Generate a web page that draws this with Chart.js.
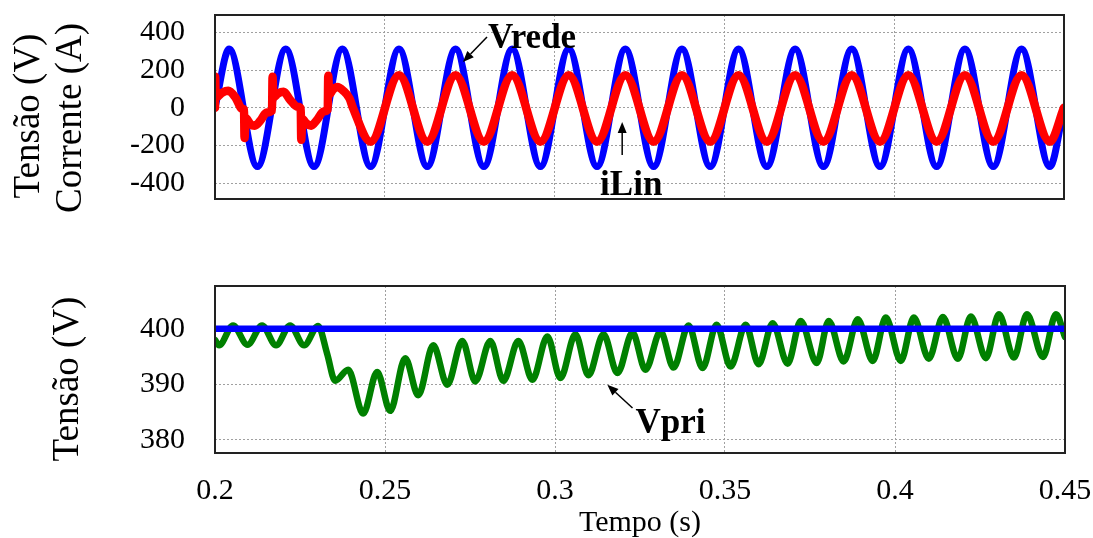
<!DOCTYPE html>
<html lang="pt">
<head>
<meta charset="utf-8">
<title>Tensão e corrente</title>
<script src="https://cdn.jsdelivr.net/npm/chart.js@4.4.1/dist/chart.umd.min.js"></script>
<style>
  html, body { margin: 0; padding: 0; background: #ffffff; }
  #quadro { position: relative; width: 1093px; height: 538px; overflow: hidden; }
  #quadro canvas { position: absolute; left: 0; top: 0; }
</style>
</head>
<body>
<div id="quadro">
  <canvas id="graficoRede" width="1093" height="538"></canvas>
  <canvas id="graficoPri" width="1093" height="538"></canvas>
</div>
<script>
// ---- eixos ----
const tempoTicks = [0.2, 0.25, 0.3, 0.35, 0.4, 0.45];
const tempoRotulos = ['0.2', '0.25', '0.3', '0.35', '0.4', '0.45'];
const redeTicks = [-400, -200, 0, 200, 400];
const priTicks = [380, 385, 390, 395, 400, 405];

// ---- Vrede: tensão da rede (extremos de cada semiciclo) ----
const vredeT = [0.2, 0.20417, 0.21250, 0.22083, 0.22917, 0.23750, 0.24583, 0.25417, 0.26250,
  0.27083, 0.27917, 0.28750, 0.29583, 0.30417, 0.31250, 0.32083, 0.32917, 0.33750, 0.34583,
  0.35417, 0.36250, 0.37083, 0.37917, 0.38750, 0.39583, 0.40417, 0.41250, 0.42083, 0.42917,
  0.43750, 0.44583, 0.45];
const vredeV = [0, 311, -312, 311, -312, 311, -312, 311, -312, 311, -312, 311, -312, 311, -312,
  311, -312, 311, -312, 311, -312, 311, -312, 311, -312, 311, -312, 311, -312, 311, -312, 0];

// ---- iLin: corrente de linha (partida com picos, depois regime) ----
const iLinT = [0.2, 0.20005, 0.2002, 0.2021, 0.2039, 0.2060, 0.2080, 0.20855, 0.2087, 0.2090,
  0.2105, 0.2117, 0.2135, 0.2152, 0.2168, 0.21695, 0.2172, 0.2185, 0.2202, 0.2220, 0.2243,
  0.22525, 0.2254, 0.2257, 0.2270, 0.2283, 0.2300, 0.2320, 0.2332, 0.23335, 0.2336, 0.2347,
  0.2360, 0.2378, 0.2396, 0.2406,
  0.24583, 0.25417, 0.26250, 0.27083, 0.27917, 0.28750, 0.29583, 0.30417, 0.31250, 0.32083,
  0.32917, 0.33750, 0.34583, 0.35417, 0.36250, 0.37083, 0.37917, 0.38750, 0.39583, 0.40417,
  0.41250, 0.42083, 0.42917, 0.43750, 0.44583, 0.45];
const iLinV = [0, 165, 55, 80, 90, 55, -5, -10, -160, -55,
  -88, -95, -65, -25, -15, 165, 55, 75, 85, 45, 5,
  -5, -170, -60, -85, -95, -65, -20, -10, 170, 70, 95,
  110, 90, 50, 0,
  -180, 172, -180, 172, -180, 172, -180, 172, -180, 172,
  -180, 172, -180, 172, -180, 172, -180, 172, -180, 172,
  -180, 172, -180, 172, -180, 0];

// ---- Vpri: tensão no primário (extremos da ondulação) ----
const vpriT = [0.2, 0.20118, 0.20530, 0.20957, 0.21384, 0.21796, 0.22208, 0.22621, 0.23033,
  0.23298, 0.23534, 0.23916, 0.24358, 0.24770, 0.25153, 0.25595, 0.25978, 0.26419, 0.26832,
  0.27273, 0.27656, 0.28098, 0.28481, 0.28922, 0.29335, 0.29776, 0.30159, 0.30601, 0.30983,
  0.31425, 0.31837, 0.32279, 0.32662, 0.33104, 0.33486, 0.33928, 0.34340, 0.34753, 0.35165,
  0.35607, 0.35989, 0.36402, 0.36843, 0.37226, 0.37697, 0.38051, 0.38492, 0.38905, 0.39346,
  0.39729, 0.40171, 0.40554, 0.40995, 0.41408, 0.41849, 0.42232, 0.42674, 0.43057, 0.43498,
  0.43881, 0.44352, 0.44735, 0.45];
const vpriV = [398.0, 397.0, 400.6, 397.1, 400.6, 397.0, 400.6, 397.0, 400.5,
  395.5, 390.6, 392.6, 384.7, 392.2, 385.2, 394.7, 388.0, 397.0, 389.9,
  397.8, 390.5, 397.8, 390.6, 397.8, 390.8, 398.6, 391.1, 399.0, 391.6,
  399.0, 392.0, 399.3, 392.6, 399.5, 393.0, 400.6, 392.9, 400.7, 393.2,
  400.7, 393.6, 401.0, 393.7, 401.4, 393.8, 401.4, 394.1, 401.7, 394.2,
  402.0, 394.2, 402.0, 394.6, 402.1, 394.6, 402.2, 394.7, 402.6, 394.8,
  402.6, 394.9, 402.6, 398.5];

// ---- referência de 400 V ----
const refT = [0.2, 0.45];
const refV = [400, 400];

// ------------------------------------------------------------
const pares = (ts, vs) => ts.map((t, i) => ({ x: t, y: vs[i] }));
const SERIF = "'Liberation Serif', 'Times New Roman', serif";

// moldura preta em volta da área do gráfico
const moldura = {
  id: 'moldura',
  afterDatasetsDraw(chart) {
    const { ctx, chartArea: a } = chart;
    ctx.save();
    ctx.strokeStyle = '#222';
    ctx.lineWidth = 2;
    ctx.strokeRect(a.left, a.top, a.right - a.left, a.bottom - a.top);
    ctx.restore();
  }
};

// títulos verticais e setas com rótulos
const textos = {
  id: 'textos',
  afterDraw(chart, args, opts) {
    const ctx = chart.ctx;
    const sx = chart.scales.x, sy = chart.scales.y;
    ctx.save();
    ctx.fillStyle = '#000';
    ctx.font = '37px ' + SERIF;
    ctx.textAlign = 'center';
    ctx.textBaseline = 'alphabetic';
    (opts.titulos || []).forEach(t => {
      ctx.save();
      ctx.translate(t.base, t.centro);
      ctx.rotate(-Math.PI / 2);
      ctx.fillText(t.texto, 0, 0);
      ctx.restore();
    });
    (opts.setas || []).forEach(s => {
      const x0 = sx.getPixelForValue(s.de[0]), y0 = sy.getPixelForValue(s.de[1]);
      const x1 = sx.getPixelForValue(s.ate[0]), y1 = sy.getPixelForValue(s.ate[1]);
      const ang = Math.atan2(y1 - y0, x1 - x0);
      const comp = 11, meia = 4.5;
      ctx.strokeStyle = '#000';
      ctx.lineWidth = 1.5;
      ctx.beginPath();
      ctx.moveTo(x0, y0);
      ctx.lineTo(x1 - comp * Math.cos(ang), y1 - comp * Math.sin(ang));
      ctx.stroke();
      ctx.beginPath();
      ctx.moveTo(x1, y1);
      ctx.lineTo(x1 - comp * Math.cos(ang) + meia * Math.sin(ang), y1 - comp * Math.sin(ang) - meia * Math.cos(ang));
      ctx.lineTo(x1 - comp * Math.cos(ang) - meia * Math.sin(ang), y1 - comp * Math.sin(ang) + meia * Math.cos(ang));
      ctx.closePath();
      ctx.fill();
      ctx.font = 'bold 35px ' + SERIF;
      ctx.textAlign = 'left';
      ctx.fillText(s.texto, sx.getPixelForValue(s.rotulo[0]), sy.getPixelForValue(s.rotulo[1]));
    });
    ctx.restore();
  }
};

const grade = { color: '#a0a0a0', lineWidth: 1, drawTicks: false };
const bordaGrade = { display: false, dash: [2, 2] };

function eixoTempo(extra) {
  return Object.assign({
    type: 'linear',
    min: tempoTicks[0],
    max: tempoTicks[tempoTicks.length - 1],
    afterBuildTicks: s => { s.ticks = tempoTicks.map(v => ({ value: v })); },
    grid: grade,
    border: bordaGrade
  }, extra);
}

function opcoesBase(padding) {
  return {
    responsive: false,
    animation: false,
    events: [],
    layout: { padding },
    elements: {
      point: { radius: 0 },
      line: { cubicInterpolationMode: 'monotone', borderCapStyle: 'round', borderJoinStyle: 'round', fill: false }
    }
  };
}

// ---------- painel superior: Vrede e iLin ----------
const opSup = opcoesBase({ left: 0, right: 29, top: 15, bottom: 339 });
opSup.plugins = {
  legend: { display: false },
  tooltip: { enabled: false },
  textos: {
    titulos: [
      { texto: 'Tensão (V)', base: 39, centro: 116 },
      { texto: 'Corrente (A)', base: 81, centro: 118 }
    ],
    setas: [
      { texto: 'Vrede', de: [0.2801, 375], ate: [0.2730, 243], rotulo: [0.2804, 317] },
      { texto: 'iLin', de: [0.3199, -251], ate: [0.3199, -76], rotulo: [0.3134, -463] }
    ]
  }
};
opSup.scales = {
  x: eixoTempo({
    ticks: { display: false },
    afterFit: s => { s.height = 0; s.paddingLeft = 0; s.paddingRight = 0; }
  }),
  y: {
    min: -484, max: 492,
    afterBuildTicks: s => { s.ticks = redeTicks.map(v => ({ value: v })); },
    ticks: { font: { family: SERIF, size: 30 }, color: '#000', padding: 30 },
    grid: grade,
    border: bordaGrade,
    afterFit: s => { s.width = 215; s.paddingTop = 0; s.paddingBottom = 0; }
  }
};

new Chart(document.getElementById('graficoRede'), {
  type: 'line',
  data: {
    datasets: [
      { label: 'iLin', data: pares(iLinT, iLinV), borderColor: '#ff0000', borderWidth: 8.5, clip: 0 },
      { label: 'Vrede', data: pares(vredeT, vredeV), borderColor: '#0000ff', borderWidth: 7, clip: 0 }
    ]
  },
  options: opSup,
  plugins: [moldura, textos]
});

// ---------- painel inferior: Vpri ----------
const opInf = opcoesBase({ left: 0, right: 28, top: 286, bottom: 0 });
opInf.plugins = {
  legend: { display: false },
  tooltip: { enabled: false },
  textos: {
    titulos: [{ texto: 'Tensão (V)', base: 78, centro: 379 }],
    setas: [
      { texto: 'Vpri', de: [0.3228, 385.7], ate: [0.3154, 389.9], rotulo: [0.3237, 381.2] }
    ]
  }
};
opInf.scales = {
  x: eixoTempo({
    ticks: {
      font: { family: SERIF, size: 30 }, color: '#000', padding: 20, maxRotation: 0,
      callback: (v, i) => tempoRotulos[i]
    },
    title: {
      display: true, text: 'Tempo (s)', color: '#000',
      font: { family: SERIF, size: 30 }, padding: { top: 0, bottom: -3 }
    },
    afterFit: s => { s.height = 85; s.paddingLeft = 0; s.paddingRight = 0; }
  }),
  y: {
    min: 377.6, max: 407.7,
    afterBuildTicks: s => { s.ticks = priTicks.map(v => ({ value: v })); },
    ticks: {
      font: { family: SERIF, size: 30 }, color: '#000', padding: 30,
      callback: v => (v % 10 === 0 ? String(v) : '')
    },
    grid: grade,
    border: bordaGrade,
    afterFit: s => { s.width = 215; s.paddingTop = 0; s.paddingBottom = 0; }
  }
};

new Chart(document.getElementById('graficoPri'), {
  type: 'line',
  data: {
    datasets: [
      { label: 'Vref', data: pares(refT, refV), borderColor: '#0000ff', borderWidth: 6.5, clip: 0, cubicInterpolationMode: 'default', tension: 0 },
      { label: 'Vpri', data: pares(vpriT, vpriV), borderColor: '#008000', borderWidth: 6.5, clip: 0 }
    ]
  },
  options: opInf,
  plugins: [moldura, textos]
});
</script>
</body>
</html>
